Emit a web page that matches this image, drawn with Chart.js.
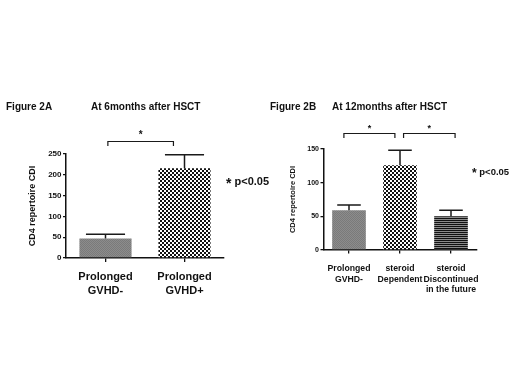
<!DOCTYPE html>
<html><head><meta charset="utf-8">
<script src="https://cdn.jsdelivr.net/npm/chart.js@4"></script>
<style>
body{margin:0;background:#fff;width:520px;height:390px;position:relative;overflow:hidden;font-family:"Liberation Sans",Arial,sans-serif;}
canvas{position:absolute;top:0}
.t{position:absolute;font-weight:bold;color:#111;white-space:nowrap;line-height:1;transform:translateY(-50%)}
</style></head><body>
<canvas id="a" width="260" height="390" style="left:0"></canvas>
<canvas id="b" width="260" height="390" style="left:260px"></canvas>
<div class="t" style="left:6px;top:107px;font-size:10px">Figure 2A</div>
<div class="t" style="left:91px;top:107px;font-size:10px">At 6months after HSCT</div>
<div class="t" style="left:270px;top:107px;font-size:10px">Figure 2B</div>
<div class="t" style="left:332px;top:107px;font-size:10px">At 12months after HSCT</div>
<div class="t" style="left:226px;top:180px;font-size:11px"><span style="font-size:14px;position:relative;top:3px">*</span> p&lt;0.05</div>
<div class="t" style="left:472px;top:171px;font-size:9.5px"><span style="font-size:12px;position:relative;top:2px">*</span> p&lt;0.05</div>
<script>
// ---- data ----
const categoriesA = [["Prolonged","GVHD-"],["Prolonged","GVHD+"]];
const meansA = [47, 216];
const errorsA = [10, 32];
const ticksA = [0, 50, 100, 150, 200, 250];
const comparisonsA = [[0, 1]];
const bracketLevelA = 280;

const categoriesB = [["Prolonged","GVHD-"],["steroid","Dependent"],["steroid","Discontinued","in the future"]];
const meansB = [59, 126, 50];
const errorsB = [8, 22, 9];
const ticksB = [0, 50, 100, 150];
const comparisonsB = [[0, 1], [1, 2]];
const bracketLevelB = 173;

const yTitle = "CD4 repertoire CDI";
const FONT = '"Liberation Sans", Arial, sans-serif';

// ---- patterns ----
function pat(w, h, draw){
  const c = document.createElement('canvas'); c.width = w; c.height = h;
  const g = c.getContext('2d'); draw(g);
  return g.createPattern(c, 'repeat');
}
const grayPat = pat(2, 2, g => { g.fillStyle='#8c8c8c'; g.fillRect(0,0,2,2); g.fillStyle='#7a7a7a'; g.fillRect(0,0,1,1); g.fillRect(1,1,1,1); });
const checkPat = pat(4, 4, g => { g.fillStyle='#fff'; g.fillRect(0,0,4,4); g.fillStyle='#111'; g.fillRect(0,0,2,2); g.fillRect(2,2,2,2); });
const stripePat = pat(2, 2, g => { g.fillStyle='#111'; g.fillRect(0,0,2,2); g.fillStyle='#8a8a8a'; g.fillRect(0,1,2,1); });

// ---- error bars + significance brackets ----
const sigPlugin = {
  id: 'sig',
  afterDatasetsDraw(chart, args, o){
    const ctx = chart.ctx, xs = chart.scales.x, ys = chart.scales.y;
    const meta = chart.getDatasetMeta(0);
    ctx.save();
    ctx.strokeStyle = '#1a1a1a'; ctx.lineWidth = 1.5; ctx.lineCap = 'butt';
    meta.data.forEach((bar, i) => {
      const top = ys.getPixelForValue(o.means[i] + o.errs[i]);
      const base = ys.getPixelForValue(o.means[i]);
      const half = bar.width * o.cap / 2;
      ctx.beginPath();
      ctx.moveTo(bar.x, base); ctx.lineTo(bar.x, top);
      ctx.moveTo(bar.x - half, top); ctx.lineTo(bar.x + half, top);
      ctx.stroke();
    });
    const cw = xs.getPixelForValue(1) - xs.getPixelForValue(0);
    ctx.lineWidth = 1.2;
    o.comparisons.forEach((c, k) => {
      const ins = o.insets[k];
      const x1 = xs.getPixelForValue(c[0]) + ins[0] * cw;
      const x2 = xs.getPixelForValue(c[1]) + ins[1] * cw;
      const yb = ys.getPixelForValue(o.level);
      ctx.beginPath();
      ctx.moveTo(x1, yb + o.drop); ctx.lineTo(x1, yb); ctx.lineTo(x2, yb); ctx.lineTo(x2, yb + o.drop);
      ctx.stroke();
      ctx.fillStyle = '#111';
      ctx.font = 'bold ' + o.starSize + 'px ' + FONT;
      ctx.textAlign = 'center'; ctx.textBaseline = 'middle';
      ctx.fillText('*', (x1 + x2) / 2, yb - o.starGap);
    });
    ctx.restore();
  }
};

function makeChart(id, cats, means, errs, ticks, colors, cfg){
  return new Chart(document.getElementById(id), {
    type: 'bar',
    data: { labels: cats, datasets: [{ data: means, backgroundColor: colors, borderWidth: 0,
      barPercentage: 0.66, categoryPercentage: 1 }] },
    options: {
      responsive: false, animation: false, devicePixelRatio: 1,
      layout: { padding: cfg.padding },
      plugins: { legend: { display: false }, tooltip: { enabled: false },
        sig: { means, errs, comparisons: cfg.comparisons, insets: cfg.insets, level: cfg.level,
               drop: cfg.drop, cap: cfg.cap, starSize: cfg.starSize, starGap: cfg.starGap } },
      scales: {
        x: {
          offset: true,
          grid: { display: true, drawOnChartArea: false, offset: false, color: '#111', tickLength: cfg.xTick, lineWidth: 1.3 },
          border: { display: true, color: '#111', width: 1.5 },
          ticks: { color: '#111', font: { family: FONT, weight: 'bold', size: cfg.xFont, lineHeight: cfg.xLine }, padding: cfg.xPad, maxRotation: 0, autoSkip: false },
          afterFit: s => { s.height = cfg.xH; }
        },
        y: {
          min: 0, max: ticks[ticks.length - 1],
          afterBuildTicks: s => { s.ticks = ticks.map(v => ({ value: v })); },
          grid: { display: true, drawOnChartArea: false, color: '#111', tickLength: 3, lineWidth: 1.3 },
          border: { display: true, color: '#111', width: 1.5 },
          ticks: { color: '#111', font: { family: FONT, weight: 'bold', size: cfg.yFont }, padding: 1.5 },
          title: { display: true, text: yTitle, color: '#111', font: { family: FONT, weight: 'bold', size: cfg.tFont, lineHeight: 1.2 }, padding: { top: cfg.tPad, bottom: 0 } },
          afterFit: s => { s.width = cfg.yW; }
        }
      }
    },
    plugins: [sigPlugin]
  });
}

makeChart('a', categoriesA, meansA, errorsA, ticksA, [grayPat, checkPat], {
  padding: { left: 0, right: 36, top: 154, bottom: 82 },
  comparisons: comparisonsA, insets: [[0.03, -0.14]], level: bracketLevelA, drop: 4.5,
  cap: 0.75, starSize: 10, starGap: 6,
  xTick: 4, xFont: 11, xLine: 1.27, xPad: 8, xH: 50,
  yFont: 8, tFont: 9, tPad: 27.5, yW: 66
});
makeChart('b', categoriesB, meansB, errorsB, ticksB, [grayPat, checkPat, stripePat], {
  padding: { left: 0, right: 43.5, top: 149, bottom: 90 },
  comparisons: comparisonsB, insets: [[-0.1, -0.1], [0.07, 0.08]], level: bracketLevelB, drop: 4.5,
  cap: 0.7, starSize: 9, starGap: 5,
  xTick: 3.5, xFont: 8.7, xLine: 1.2, xPad: 10, xH: 50,
  yFont: 7, tFont: 7.5, tPad: 28.5, yW: 63.5
});
</script>
</body></html>
